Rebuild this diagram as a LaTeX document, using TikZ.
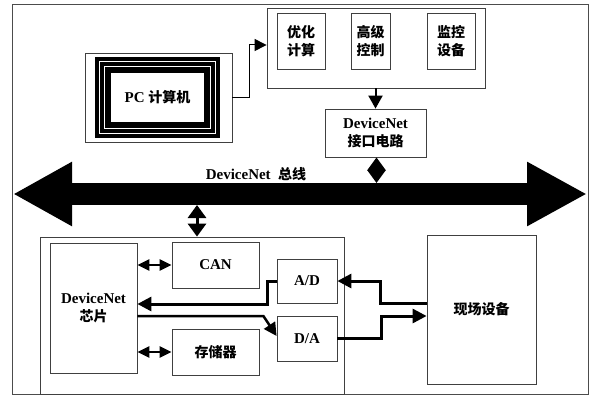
\documentclass[tikz,border=0pt]{standalone}
\usepackage{fontspec}
\setmainfont{Liberation Serif}
\newfontfamily\cjk{Noto Sans CJK SC}
\usetikzlibrary{arrows.meta}
\begin{document}
\begin{tikzpicture}[x=1pt,y=-1pt,
  box/.style={draw=black!75, line width=0.8pt, inner sep=0pt, fill=white},
  lbl/.style={font=\bfseries\fontsize{15}{17.5}\selectfont, align=center},
  thinarr/.style={line width=1pt, -{Triangle[length=12pt,width=12pt]}},
  downarr/.style={line width=2pt, -{Triangle[length=13pt,width=14pt]}},
  thickarr/.style={line width=3pt, -{Triangle[length=14pt,width=14pt]}},
  midarr/.style={line width=2.5pt, -{Triangle[length=13pt,width=13pt]}},
  dblv/.style={line width=3pt, {Triangle[length=13pt,width=18pt]}-{Triangle[length=13pt,width=18pt]}},
  dblh/.style={line width=2.5pt, {Triangle[length=12pt,width=11pt]}-{Triangle[length=12pt,width=11pt]}}]
\useasboundingbox (0,0) rectangle (593,396);
% outer frame
\draw[black!70, line width=1pt] (12,5) rectangle (588,394);

% PC box
\node[box, minimum width=147pt, minimum height=89pt] (pcout) at (158.5,97.5) {};
\fill[black] (95,57) rectangle (220,138);
\draw[white, line width=0.8pt] (99.5,61.5) rectangle (215.5,133.5);
\draw[white, line width=0.8pt] (104.5,66.5) rectangle (210.5,128.5);
\node[fill=white, minimum width=93pt, minimum height=49pt, inner sep=0pt] (pcin) at (157.5,97.5) {};
\node[lbl] (pclbl) at (pcin) {PC {\cjk\fontsize{14}{17.5}\selectfont 计算机}};

% top group
\node[box, minimum width=218pt, minimum height=80pt] (top) at (376,48) {};
\node[box, minimum width=48pt, minimum height=56pt] (opt) at (301,41) {};
\node[lbl] at (opt) {\cjk\fontsize{14}{17.5}\selectfont 优化\\\cjk\fontsize{14}{17.5}\selectfont 计算};
\node[box, minimum width=39pt, minimum height=56pt] (adv) at (370.5,41) {};
\node[lbl] at (adv) {\cjk\fontsize{14}{17.5}\selectfont 高级\\\cjk\fontsize{14}{17.5}\selectfont 控制};
\node[box, minimum width=48pt, minimum height=56pt] (mon) at (451,41) {};
\node[lbl] at (mon) {\cjk\fontsize{14}{17.5}\selectfont 监控\\\cjk\fontsize{14}{17.5}\selectfont 设备};

% interface
\node[box, minimum width=101pt, minimum height=48pt] (iface) at (375.5,133) {};
\node[lbl] at (iface) {DeviceNet\\\cjk\fontsize{14}{17.5}\selectfont 接口电路};

% bus
\coordinate (busL) at (13,194);
\coordinate (busR) at (587,194);
\coordinate (bt) at (0,183);
\coordinate (bb) at (0,205);
\draw[line width=22pt, {Triangle[length=59pt,width=60pt]}-{Triangle[length=60pt,width=60pt]}] (busL) -- (busR);
\node[lbl] (buslbl) at (256,174) {DeviceNet\ \ {\cjk\fontsize{14}{17.5}\selectfont 总线}};

% lower box
\node[box, minimum width=304pt, minimum height=157pt] (lower) at (192,315.5) {};
\node[box, minimum width=87pt, minimum height=130pt] (chip) at (93.5,308) {};
\node[lbl] at (chip) {DeviceNet\\\cjk\fontsize{14}{17.5}\selectfont 芯片};
\node[box, minimum width=87pt, minimum height=46pt] (can) at (215.5,265) {};
\node[lbl] at (can) {CAN};
\node[box, minimum width=87pt, minimum height=46pt] (mem) at (215.5,352) {};
\node[lbl] at (mem) {\cjk\fontsize{14}{17.5}\selectfont 存储器};
\node[box, minimum width=60pt, minimum height=44pt] (ad) at (307,281) {};
\node[lbl] at (ad) {A/D};
\node[box, minimum width=60pt, minimum height=45pt] (da) at (307,338.5) {};
\node[lbl] at (da) {D/A};
\node[box, minimum width=109pt, minimum height=149pt] (field) at (481.5,309.5) {};
\node[lbl] at (field) {\cjk\fontsize{14}{17.5}\selectfont 现场设备};

% connectors
\draw[thinarr] (pcout.east) -- ++(17,0) |- ([yshift=3pt]top.west);
\draw[downarr] (top.south -| iface.north) -- (iface.north);
\draw[dblv] ([xshift=1pt]iface.south) -- ([xshift=1pt]iface.south |- bt);
\draw[dblv] ([xshift=5pt]lower.north) -- ([xshift=5pt]lower.north |- bb);
\draw[dblh] (chip.east |- can.west) -- (can.west);
\draw[dblh] (chip.east |- mem.west) -- (mem.west);
\draw[thickarr] (ad.west) -- ++(-9,0) |- ([yshift=4pt]chip.east);
\draw[midarr] ([yshift=-8pt]chip.east) -- ++(126,0) -- ([yshift=2.5pt]da.west);
\draw[thickarr] ([yshift=6pt]field.west) -- ++(-46,0) |- (ad.east);
\draw[thickarr] (da.east) -- ++(44,0) |- ([yshift=-6.5pt]field.west);
\end{tikzpicture}
\end{document}
